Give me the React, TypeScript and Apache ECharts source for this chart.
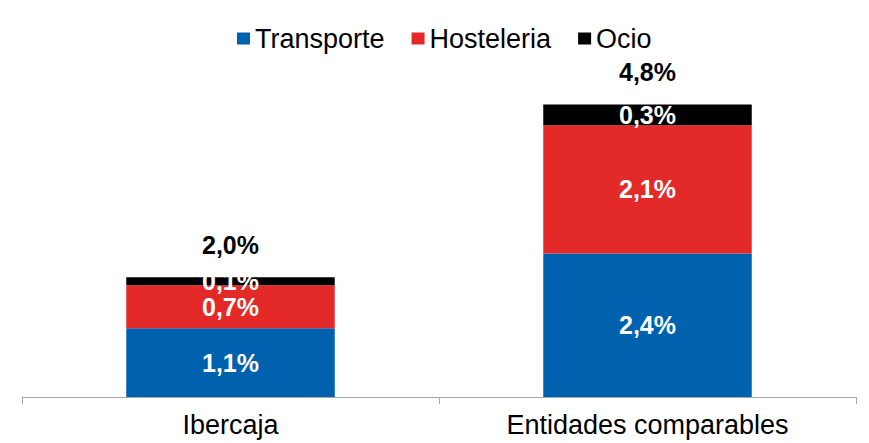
import React, { useEffect, useRef } from "react";
import * as echarts from "echarts";

const categories = ["Ibercaja", "Entidades comparables"];
const transporte = [1.13, 2.36];
const hosteleria = [0.71, 2.11];
const ocio = [0.13, 0.34];
const seriesNames = ["Transporte", "Hosteleria", "Ocio"];
const colors = ["#0061AE", "#E42A28", "#000000"];

const FONT = "'Liberation Sans', Arial, sans-serif";
const fmt = (v: number) => v.toFixed(1).replace(".", ",") + "%";

export default function App() {
  const ref = useRef<HTMLDivElement>(null);
  useEffect(() => {
    document.body.style.margin = "0";
    const chart = echarts.init(ref.current!, null, { renderer: "svg" });
    const totals = categories.map((_, i) => transporte[i] + hosteleria[i] + ocio[i]);
    const inner = {
      show: true,
      position: "inside",
      color: "#fff",
      fontWeight: "bold",
      fontSize: 25,
      fontFamily: FONT,
      formatter: (p: any) => fmt(p.value),
    };
    const dataArr = [transporte, hosteleria, ocio];
    chart.setOption({
      animation: false,
      textStyle: { fontFamily: FONT },
      legend: {
        data: seriesNames,
        top: 20,
        left: 232,
        icon: "rect",
        itemWidth: 13,
        itemHeight: 12,
        itemGap: 27,
        textStyle: { fontSize: 27, color: "#000", fontFamily: FONT },
      },
      grid: { left: 22, right: 13, bottom: 46, top: 93 },
      xAxis: {
        type: "category",
        data: categories,
        axisLine: { lineStyle: { color: "#A6A6A6", width: 1 } },
        axisTick: { show: true, length: 7, lineStyle: { color: "#A6A6A6" } },
        axisLabel: { fontSize: 27, color: "#000", margin: 14, fontFamily: FONT },
      },
      yAxis: {
        type: "value",
        min: 0,
        max: 5,
        show: false,
        splitLine: { show: false },
      },
      series: [
        ...seriesNames.map((n, k) => ({
          name: n,
          type: "bar",
          stack: "total",
          barWidth: "50%",
          itemStyle: { color: colors[k] },
          label: inner,
          data: dataArr[k],
        })),
        {
          name: "Total",
          type: "scatter",
          symbolSize: 0,
          data: totals,
          itemStyle: { opacity: 1, color: "#000" },
          label: {
            show: true,
            position: "top",
            distance: 20,
            color: "#000000",
            fontWeight: "bold",
            fontSize: 25,
            fontFamily: FONT,
            formatter: (p: any) => fmt(p.value),
          },
          silent: true,
        },
      ],
    });
    return () => chart.dispose();
  }, []);
  return <div ref={ref} style={{ width: 869, height: 443 }} />;
}
